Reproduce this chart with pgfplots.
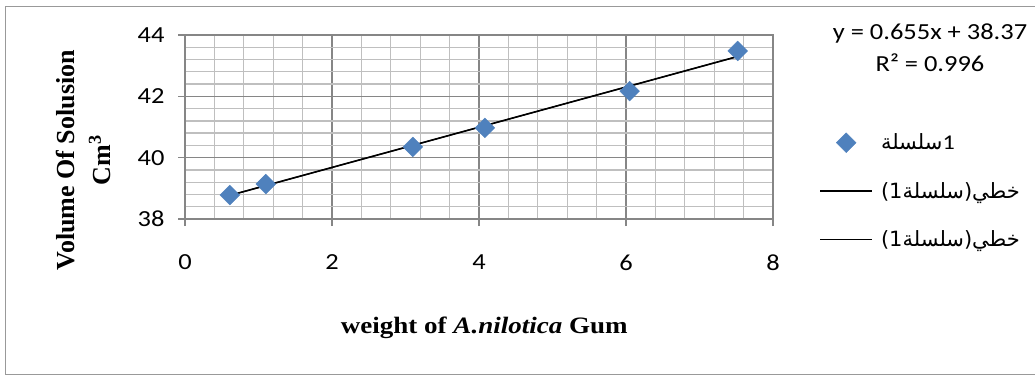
\documentclass[border=0pt]{standalone}
\usepackage{fontspec}
\usepackage{pgfplots}
\pgfplotsset{compat=1.18}
\setmainfont{Carlito}[FakeStretch=1.15]
\newfontfamily\tnr{Liberation Serif}[FakeStretch=1.15]
\newfontfamily\tnrplain{Liberation Serif}
\newfontfamily\arabicfont[Script=Arabic]{DejaVu Sans}
\TeXXeTstate=1
\definecolor{mblue}{HTML}{4F81BD}
\definecolor{gmajor}{HTML}{868686}
\definecolor{gminor}{HTML}{BFBFBF}
\pgfplotsset{
  lineleg/.style={legend image code/.code={\draw[##1] (0pt,0pt) -- (52pt,0pt);}},
  markleg/.style={legend image code/.code={\draw[mark repeat=2,mark phase=2,##1] plot coordinates {(0pt,0pt) (26pt,0pt) (52pt,0pt)};}},
}
\begin{document}
\begin{tikzpicture}[x=1pt,y=1pt]
\useasboundingbox (0,0) rectangle (1035,376);
\draw[color=black!40, line width=1.2pt] (1036,369.5) -- (5.5,369.5) -- (5.5,1.5) -- (1036,1.5);
\begin{axis}[
  at={(185pt,157pt)}, anchor=south west,
  width=588pt, height=184pt, scale only axis,
  xmin=0, xmax=8, ymin=38, ymax=44,
  xtick={0,2,4,6,8}, ytick={38,40,42,44},
  minor x tick num=4, minor y tick num=4,
  grid=both,
  major grid style={gmajor, line width=1.3pt},
  minor grid style={gminor, line width=1.3pt},
  axis line style={gmajor, line width=1.3pt},
  tick style={gmajor, line width=1.3pt},
  tick align=outside, major tick length=7pt, minor tick length=0pt,
  xtick pos=bottom, ytick pos=left,
  /pgf/number format/assume math mode=true,
  ticklabel style={font=\fontsize{23}{27}\selectfont},
  xticklabel style={yshift=-25.5pt},
  yticklabel style={xshift=-10pt},
  xlabel={weight of \textit{A.nilotica} Gum},
  xlabel style={at={(rel axis cs:0.509,-0.592)}, anchor=center, font=\tnr\bfseries\fontsize{23.5}{27}\selectfont},
  ylabel={Volume Of Solusion\\Cm\textsuperscript{3}},
  ylabel style={at={(rel axis cs:-0.1735,0.32)}, anchor=center, align=center, font=\tnrplain\bfseries\fontsize{26}{36}\selectfont},
  legend style={at={(rel axis cs:1.0735,0.485)}, anchor=north west, draw=none, fill=none,
    font=\fontsize{21}{25}\selectfont, row sep=27pt,
    /tikz/every odd column/.append style={column sep=6pt}},
  legend cell align=left,
]
\addplot[only marks, mark=square*, mark size=7pt, color=mblue,
  mark options={rotate=45, fill=mblue, draw=mblue}, markleg]
  coordinates {(0.61,38.78) (1.10,39.14) (3.10,40.35) (4.08,40.97) (6.05,42.17) (7.52,43.48)};
\addlegendentry{{\arabicfont\beginR سلسلة\endR}1}
\addplot[black, line width=1.6pt, no marks, lineleg]
  coordinates {(0.61,38.77) (7.52,43.30)};
\addlegendentry{{\arabicfont\beginR خطي(سلسلة1)\endR}}
\addplot[black, line width=1.1pt, no marks, lineleg]
  coordinates {(0.61,38.77) (7.52,43.30)};
\addlegendentry{{\arabicfont\beginR خطي(سلسلة1)\endR}}
\end{axis}
\node[align=center, font=\fontsize{23}{32}\selectfont] at (930,328) {y = 0.655x + 38.37\\R² = 0.996};
\end{tikzpicture}
\end{document}
